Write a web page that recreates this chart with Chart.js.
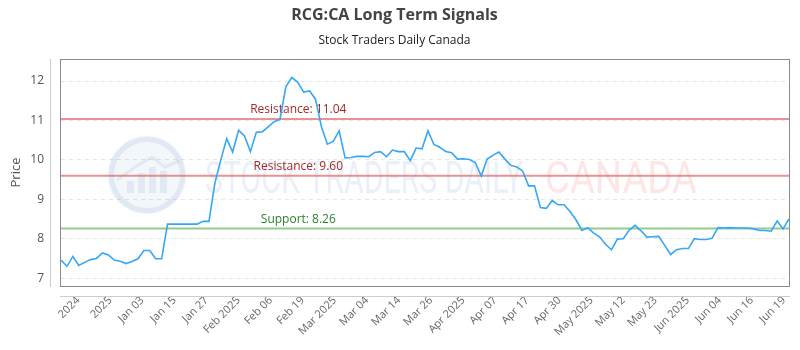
<!DOCTYPE html>
<html>
<head>
<meta charset="utf-8">
<script src="https://cdn.jsdelivr.net/npm/chart.js@4.4.1/dist/chart.umd.min.js"></script>
<style>
    html, body { margin: 0; padding: 0; background: #fff; }
    #wrap { width: 800px; height: 350px; }
</style>
</head>
<body>
<div id="wrap"><canvas id="grafico"></canvas></div>
<script>
// dados
const precos = [
    7.46, 7.30, 7.55, 7.32, 7.40, 7.47, 7.50, 7.64, 7.59, 7.46,
    7.43, 7.37, 7.42, 7.49, 7.70, 7.70, 7.49, 7.49, 8.37, 8.37,
    8.37, 8.37, 8.37, 8.37, 8.44, 8.44, 9.41, 10.00, 10.54, 10.20,
    10.75, 10.61, 10.21, 10.70, 10.71, 10.84, 10.97, 11.03, 11.86, 12.09,
    11.97, 11.72, 11.75, 11.54, 10.84, 10.40, 10.47, 10.74, 10.05, 10.06,
    10.09, 10.09, 10.08, 10.19, 10.21, 10.08, 10.25, 10.21, 10.21, 9.98,
    10.30, 10.28, 10.74, 10.39, 10.32, 10.21, 10.18, 10.02, 10.03, 10.01,
    9.93, 9.59, 10.02, 10.12, 10.20, 10.02, 9.86, 9.82, 9.72, 9.34,
    9.34, 8.79, 8.77, 8.97, 8.86, 8.86, 8.69, 8.48, 8.21, 8.28,
    8.14, 8.05, 7.86, 7.72, 7.99, 8.00, 8.22, 8.34, 8.20, 8.04,
    8.05, 8.06, 7.83, 7.60, 7.72, 7.75, 7.75, 8.00, 7.98, 7.98,
    8.01, 8.28, 8.27, 8.28, 8.27, 8.27, 8.27, 8.25, 8.21, 8.21,
    8.19, 8.45, 8.25, 8.50
];
const rotulosX = ['2024', '2025', 'Jan 03', 'Jan 15', 'Jan 27', 'Feb 2025', 'Feb 06', 'Feb 19',
    'Mar 2025', 'Mar 04', 'Mar 14', 'Mar 26', 'Apr 2025', 'Apr 07', 'Apr 17', 'Apr 30',
    'May 2025', 'May 12', 'May 23', 'Jun 2025', 'Jun 04', 'Jun 16', 'Jun 19'];
const niveisNomes = ['Resistance', 'Resistance', 'Support'];
const niveisValores = [11.04, 9.60, 8.26];

// posição dos rótulos do eixo x (em índice de ponto)
const inicioRotulo = 2.9;
const passoRotulo = 5.42;

const fonte = "'Open Sans', 'DejaVu Sans', sans-serif";
const coresNiveis = {
    Resistance: { linha: 'rgba(224, 110, 110, 0.75)', texto: '#a32a2a' },
    Support: { linha: 'rgba(110, 190, 100, 0.75)', texto: '#2f7f2f' }
};

// marca d'água, linhas de suporte/resistência e moldura
const pluginMoldura = {
    id: 'moldura',
    beforeDatasetsDraw(chart) {
        const ctx = chart.ctx;
        const area = chart.chartArea;
        const y = chart.scales.y;
        ctx.save();

        // logo
        const cx = 147, cy = 175;
        ctx.fillStyle = 'rgba(90, 140, 190, 0.07)';
        ctx.beginPath();
        ctx.arc(cx, cy, 38, 0, Math.PI * 2);
        ctx.fill();
        ctx.strokeStyle = 'rgba(90, 140, 190, 0.13)';
        ctx.lineWidth = 6;
        ctx.beginPath();
        ctx.arc(cx, cy, 36, 0, Math.PI * 2);
        ctx.stroke();
        ctx.fillStyle = 'rgba(90, 140, 190, 0.12)';
        [[-20, 12], [-9, 20], [2, 26], [13, 22]].forEach(function(b) {
            ctx.fillRect(cx + b[0], cy + 28 - b[1] - 10, 7, b[1]);
        });
        ctx.lineWidth = 3;
        ctx.beginPath();
        ctx.moveTo(cx - 30, cy + 5);
        ctx.lineTo(cx - 12, cy - 8);
        ctx.lineTo(cx + 5, cy - 18);
        ctx.lineTo(cx + 18, cy - 8);
        ctx.lineTo(cx + 32, cy - 14);
        ctx.stroke();

        // textos da marca d'água
        ctx.textBaseline = 'alphabetic';
        ctx.textAlign = 'left';
        ctx.font = "400 44px 'Roboto', sans-serif";
        ctx.fillStyle = 'rgba(90, 140, 190, 0.13)';
        let t = 'STOCK TRADERS DAILY';
        let w = ctx.measureText(t).width;
        ctx.save();
        ctx.translate(205, 193);
        ctx.scale(318 / w, 1);
        ctx.fillText(t, 0, 0);
        ctx.restore();
        ctx.fillStyle = 'rgba(235, 90, 90, 0.15)';
        t = 'CANADA';
        w = ctx.measureText(t).width;
        ctx.save();
        ctx.translate(545, 193);
        ctx.scale(152 / w, 1);
        ctx.fillText(t, 0, 0);
        ctx.restore();

        // linhas de suporte e resistência
        const xRotulo = area.left + (area.right - area.left) * 0.326;
        niveisValores.forEach(function(v, i) {
            const cor = coresNiveis[niveisNomes[i]];
            const py = y.getPixelForValue(v);
            ctx.strokeStyle = cor.linha;
            ctx.lineWidth = 2;
            ctx.beginPath();
            ctx.moveTo(area.left, py);
            ctx.lineTo(area.right, py);
            ctx.stroke();
            ctx.fillStyle = cor.texto;
            ctx.font = '12px ' + fonte;
            ctx.textAlign = 'center';
            ctx.textBaseline = 'middle';
            ctx.fillText(niveisNomes[i] + ': ' + v.toFixed(2), xRotulo, py - 9);
        });
        ctx.restore();
    },
    afterDraw(chart) {
        const ctx = chart.ctx;
        const area = chart.chartArea;
        ctx.save();
        ctx.strokeStyle = '#8a8a8a';
        ctx.lineWidth = 1;
        ctx.strokeRect(area.left - 0.5, area.top + 0.5, area.right - area.left + 1, area.bottom - area.top);
        ctx.strokeStyle = '#cccccc';
        ctx.beginPath();
        ctx.moveTo(area.left - 10.5, area.top);
        ctx.lineTo(area.left - 10.5, area.bottom + 1);
        ctx.moveTo(area.left - 1, area.bottom + 10.5);
        ctx.lineTo(area.right + 1, area.bottom + 10.5);
        ctx.stroke();
        ctx.restore();
    }
};

document.addEventListener('DOMContentLoaded', function() {
    if (typeof Chart === 'undefined') {
        console.error('Chart.js não foi carregado!');
        return;
    }

    const ctx = document.getElementById('grafico');
    new Chart(ctx, {
        type: 'line',
        data: {
            datasets: [{
                label: 'Price',
                data: precos.map(function(v, i) { return { x: i, y: v }; }),
                borderColor: 'rgb(54, 167, 245)',
                borderWidth: 1.6,
                pointRadius: 0,
                tension: 0,
                fill: false
            }]
        },
        options: {
            responsive: true,
            maintainAspectRatio: false,
            animation: false,
            layout: { padding: { left: 0, right: 11, top: 0, bottom: 0 } },
            plugins: {
                legend: { display: false },
                tooltip: { enabled: false },
                title: {
                    display: true,
                    text: 'RCG:CA Long Term Signals',
                    color: '#444',
                    font: { family: fonte, size: 16, weight: 'bold' },
                    padding: { top: 6, bottom: 6 }
                },
                subtitle: {
                    display: true,
                    text: 'Stock Traders Daily Canada',
                    color: '#222',
                    font: { family: fonte, size: 12 },
                    padding: { top: 2, bottom: 11.4 }
                }
            },
            scales: {
                x: {
                    type: 'linear',
                    min: 0,
                    max: precos.length - 1,
                    grid: { display: false, drawTicks: false },
                    border: { display: false },
                    afterBuildTicks: function(scale) {
                        scale.ticks = rotulosX.map(function(_, i) {
                            return { value: inicioRotulo + i * passoRotulo };
                        });
                    },
                    afterFit: function(scale) {
                        scale.height = 64;
                        scale.paddingLeft = 0;
                        scale.paddingRight = 0;
                    },
                    ticks: {
                        autoSkip: false,
                        minRotation: 45,
                        maxRotation: 45,
                        padding: 8,
                        color: '#666',
                        font: { family: fonte, size: 11 },
                        callback: function(value, index) { return rotulosX[index]; }
                    }
                },
                y: {
                    min: 6.8,
                    max: 12.56,
                    grid: {
                        color: '#e6e6e6',
                        drawTicks: false
                    },
                    border: { display: false, dash: [4, 4] },
                    afterFit: function(scale) {
                        scale.width = 61;
                        scale.paddingTop = 0;
                        scale.paddingBottom = 0;
                    },
                    ticks: {
                        stepSize: 1,
                        includeBounds: false,
                        padding: 17,
                        color: '#555',
                        font: { family: fonte, size: 12 }
                    },
                    title: {
                        display: true,
                        text: 'Price',
                        color: '#555',
                        font: { family: fonte, size: 13 },
                        padding: { top: 8, bottom: 0 }
                    }
                }
            }
        },
        plugins: [pluginMoldura]
    });
});
</script>
</body>
</html>
